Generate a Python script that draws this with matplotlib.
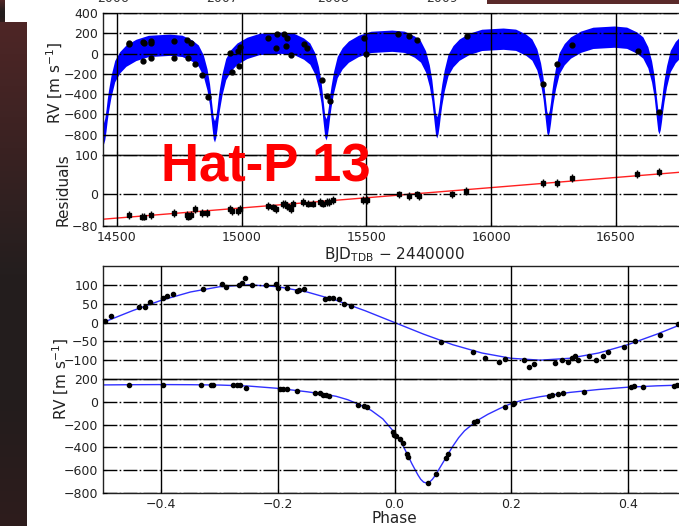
import numpy as np
import matplotlib
matplotlib.use('Agg')
import matplotlib.pyplot as plt
from matplotlib.colors import LinearSegmentedColormap

# ---------------- data ----------------
# blue model band (upper / lower envelope) in the RV-vs-time panel
band_dates = [14446,14451,14456,14461,14466,14476,14491,14511,14536,14576,14626,
              14711,14761,14801,14826,14846,14861,14871,14876,14881,14886,14891,14896,14901,14906,14911,14921,14936,14956,14981,15021,15071,
              15158,15208,15248,15273,15293,15308,15318,15323,15328,15333,15338,15343,15348,15353,15358,15368,15383,15403,15428,15468,15518,
              15602,15652,15692,15717,15737,15752,15762,15767,15772,15777,15782,15787,15792,15797,15802,15812,15827,15847,15872,15912,15962,
              16048,16098,16138,16163,16183,16198,16208,16213,16218,16223,16228,16233,16238,16243,16248,16258,16273,16293,16318,16358,16408,
              16493,16543,16583,16608,16628,16643,16653,16658,16663,16668,16673,16678,16683,16688,16693,16703,16718,16738,16763,16803]
band_upper = [-682,-640,-555,-449,-361,-219,-68,19,84,141,180,
              192,181,134,85,-12,-151,-296,-406,-520,-630,-662,-620,-535,-429,-341,-199,-48,39,104,161,200,
              212,201,154,105,8,-131,-276,-386,-500,-610,-642,-600,-515,-409,-321,-179,-28,59,124,181,220,
              232,221,174,125,28,-111,-256,-366,-480,-590,-622,-580,-495,-389,-301,-159,-8,79,144,201,240,
              252,241,194,145,48,-91,-236,-346,-460,-570,-602,-560,-475,-369,-281,-139,12,99,164,221,260,
              272,261,214,165,68,-71,-216,-326,-440,-550,-582,-540,-455,-349,-261,-119,32,119,184,241]
band_lower = [-892,-850,-765,-659,-571,-429,-278,-191,-126,-69,-30,
              -18,-29,-76,-125,-222,-361,-506,-616,-730,-840,-872,-830,-745,-639,-551,-409,-258,-171,-106,-49,-10,
              2,-9,-56,-105,-202,-341,-486,-596,-710,-820,-852,-810,-725,-619,-531,-389,-238,-151,-86,-29,10,
              22,11,-36,-85,-182,-321,-466,-576,-690,-800,-832,-790,-705,-599,-511,-369,-218,-131,-66,-9,30,
              42,31,-16,-65,-162,-301,-446,-556,-670,-780,-812,-770,-685,-579,-491,-349,-198,-111,-46,11,50,
              62,51,4,-45,-142,-281,-426,-536,-650,-760,-792,-750,-665,-559,-471,-329,-178,-91,-26,31]

# RV measurements
rv_dates = [14548,14550,14604,14608,14604,14636,14638,14636,14729,14729,14781,14785,14797,14813,14841,14865,
            14953,14961,14985,14993,14989,15106,15142,15170,15182,15138,15178,15198,15250,15262,
            15322,15342,15354,15491,15499,15627,15671,15703,15904,16209,16264,16325,16589,16673]
rv_vals = [100,90,110,100,-70,108,120,-40,128,-40,130,-40,100,-98,-216,-433,
           10,-177,30,60,-118,157,197,197,157,59,79,-10,98,59,
           -265,-423,-472,157,0,197,177,138,177,-300,-100,88,30,-580]

# residuals
res_dates = [14548,14600,14608,14636,14729,14781,14785,14797,14813,14841,14861,14953,14961,14985,14993,
             15105,15125,15137,15166,15174,15182,15190,15198,15206,15246,15266,15286,15314,15326,15342,15350,15366,
             15487,15503,15631,15671,15703,15711,15843,15900,16209,16264,16325,16585,16673]
res_vals = [-53,-56,-56,-53,-48,-51,-56,-51,-38,-46,-48,-36,-41,-41,-38,
            -30,-33,-38,-25,-23,-30,-33,-38,-23,-20,-23,-23,-20,-23,-20,-20,-15,
            -15,-13,0,-5,0,-3,0,8,30,30,41,51,58]
trend_dates = [14440, 16790]
trend_vals = [-63, 58]

# phase-folded, planet b
pb_phase = [-0.497,-0.486,-0.438,-0.428,-0.419,-0.397,-0.39,-0.38,-0.328,-0.296,-0.289,-0.266,-0.261,-0.256,
            -0.244,-0.22,-0.204,-0.2,-0.184,-0.168,-0.163,-0.156,-0.12,-0.112,-0.105,-0.096,-0.086,-0.074,
            0.08,0.134,0.155,0.18,0.189,0.222,0.23,0.239,0.276,0.288,0.297,0.304,0.309,0.314,0.333,0.345,
            0.357,0.366,0.393,0.412,0.455,0.486]
pb_rv = [5,18,42,42,55,66,71,76,89,103,95,100,105,118,
         100,100,103,92,92,84,87,90,63,66,65,62,50,45,
         -52,-79,-94,-105,-97,-100,-117,-110,-108,-100,-105,-95,-90,-100,-90,-100,
         -90,-79,-66,-50,-32,-5]
pb_curve_x = [-0.5,-0.45,-0.4,-0.35,-0.3,-0.25,-0.2,-0.15,-0.1,-0.05,0.0,0.05,0.1,0.15,0.2,0.25,0.3,0.35,0.4,0.45,0.5]
pb_curve_y = [0,31,59,81,95,100,95,81,59,31,0,-31,-59,-81,-95,-100,-95,-81,-59,-31,0]

# phase-folded, planet c
pc_phase = [-0.455,-0.397,-0.332,-0.314,-0.311,-0.277,-0.27,-0.265,-0.254,-0.196,-0.191,-0.184,-0.168,
            -0.136,-0.127,-0.122,-0.117,-0.112,-0.062,-0.053,-0.048,-0.003,-0.001,0.003,0.009,0.014,
            0.022,0.024,0.058,0.072,0.088,0.091,0.136,0.141,0.189,0.203,0.205,0.265,0.271,0.28,0.289,
            0.325,0.406,0.411,0.426,0.479,0.485]
pc_rv = [151,151,151,151,149,148,145,145,124,116,113,113,98,
         80,77,62,62,53,-27,-35,-45,-267,-290,-302,-329,-364,
         -462,-480,-711,-631,-489,-462,-178,-169,-44,-18,-9,53,62,71,80,
         89,133,142,133,142,151]
pc_curve_x = [-0.5,-0.45,-0.4,-0.35,-0.3,-0.25,-0.2,-0.15,-0.12,-0.1,-0.08,-0.06,-0.04,-0.02,0.0,0.01,0.02,
              0.03,0.04,0.045,0.05,0.055,0.06,0.065,0.07,0.08,0.09,0.1,0.11,0.12,0.14,0.16,0.18,0.2,0.22,
              0.25,0.3,0.35,0.4,0.45,0.5]
pc_curve_y = [148,150,151,150,147,138,118,88,66,48,18,-25,-75,-150,-270,-340,-440,
              -545,-640,-680,-705,-712,-705,-680,-645,-560,-475,-390,-315,-255,-170,-110,-60,-15,15,
              45,82,108,128,140,148]

time_ticks = [14500, 15000, 15500, 16000, 16500]
rv_ticks = [-800, -600, -400, -200, 0, 200, 400]
res_ticks = [-80, 0, 100]
pb_ticks = [-100, -50, 0, 50, 100]
pc_ticks = [-800, -600, -400, -200, 0, 200]
phase_ticks = [-0.4, -0.2, 0.0, 0.2, 0.4]
year_labels = ['2006', '2007', '2008', '2009']

# ---------------- figure ----------------
W, H = 679, 526
fig = plt.figure(figsize=(W/100, H/100), dpi=100, facecolor='white')

def box(l, t, r, b):
    return [l/W, 1 - b/H, (r-l)/W, (b-t)/H]

bg = fig.add_axes([0, 0, 1, 1], zorder=-5)
bg.set_xlim(0, W); bg.set_ylim(H, 0); bg.axis('off')
cmap = LinearSegmentedColormap.from_list('m', ['#4e2626', '#3a2222', '#241e1e', '#231d1d', '#2e1c1c'])
grad = np.linspace(0, 1, 256)[:, None]
bg.imshow(grad, cmap=cmap, extent=(0, 27, H, 22), aspect='auto', zorder=1)
bg.imshow(grad[:20], cmap=cmap, extent=(0, 5, 22, 0), aspect='auto', zorder=1)
bg.add_patch(plt.Rectangle((487, 0), 192, 4, color='#5a2a2a', lw=0))
bg.set_xlim(0, W); bg.set_ylim(H, 0)

for i, lab in enumerate(year_labels):
    fig.text([113, 222, 333, 442][i]/W, 1 - 1.5/H, lab, ha='center', va='baseline',
             fontsize=9, color='#333333')

ax1 = fig.add_axes(box(103, 13, 686, 155))
ax2 = fig.add_axes(box(103, 155, 686, 226), sharex=ax1)
ax3 = fig.add_axes(box(103, 266, 686, 379))
ax4 = fig.add_axes(box(103, 379, 686, 493), sharex=ax3)

hdash = (0, (10, 1.6, 1.2, 1.6))

def style(ax):
    ax.set_axisbelow(False)
    ax.yaxis.grid(True, color='black', lw=1.0, linestyle=hdash)
    ax.xaxis.grid(True, color='black', lw=1.0, linestyle='-')
    ax.tick_params(labelsize=9, labelcolor='#222222', direction='in', length=3, width=0.8)
    for s in ax.spines.values():
        s.set_color('#222222'); s.set_linewidth(1.0)

# top: RV vs time
ax1.fill_between(band_dates, band_lower, band_upper, color='#0000ff', lw=0, zorder=1)
ax1.plot(rv_dates, rv_vals, 'o', color='black', ms=3.5, zorder=4)
ax1.set_ylim(-1000, 400)
ax1.set_yticks(rv_ticks)
ax1.set_xlim(14444, 16781)
ax1.set_xticks(time_ticks)
ax1.tick_params(labelbottom=False)
style(ax1)
fig.text(55/W, 1 - 83/H, r'RV [m s$^{-1}$]', rotation=90, fontsize=11, color='#222222',
         ha='center', va='center')

# residuals
ax2.plot(trend_dates, trend_vals, color='#ff2020', lw=1.0, zorder=2)
ax2.errorbar(res_dates, res_vals, yerr=10, fmt='s', color='black', ms=3, elinewidth=1, capsize=0, zorder=4)
ax2.set_ylim(-80, 100)
ax2.set_yticks(res_ticks)
ax2.set_xticks(time_ticks)
style(ax2)
fig.text(63/W, 1 - 190/H, 'Residuals', rotation=90, fontsize=11, color='#222222',
         ha='center', va='center')
ax2.set_xlabel(r'BJD$_{\mathrm{TDB}}$ $-$ 2440000', fontsize=11, color='#222222', labelpad=1)

# phase b
ax3.plot(pb_curve_x, pb_curve_y, color='#3030ff', lw=1.0, zorder=2)
ax3.plot(pb_phase, pb_rv, 'o', color='black', ms=3, zorder=4)
ax3.set_ylim(-150, 150)
ax3.set_yticks(pb_ticks)
ax3.set_xlim(-0.5, 0.5)
ax3.set_xticks(phase_ticks)
ax3.tick_params(labelbottom=False)
style(ax3)

# phase c
ax4.plot(pc_curve_x, pc_curve_y, color='#3030ff', lw=1.0, zorder=2)
ax4.plot(pc_phase, pc_rv, 'o', color='black', ms=3, zorder=4)
ax4.set_ylim(-800, 200)
ax4.set_yticks(pc_ticks)
ax4.set_xticks(phase_ticks)
style(ax4)
ax4.set_xlabel('Phase', fontsize=11, color='#222222', labelpad=0)
fig.text(61/W, 1 - 379/H, r'RV [m s$^{-1}$]', rotation=90, fontsize=11, color='#222222',
         ha='center', va='center')

fig.text(266/W, 1 - 182/H, 'Hat-P 13', color='#ff0000', fontsize=38, fontweight='bold',
         family='Liberation Sans', ha='center', va='baseline', zorder=10)

fig.savefig('out.png', dpi=100, facecolor='white')
